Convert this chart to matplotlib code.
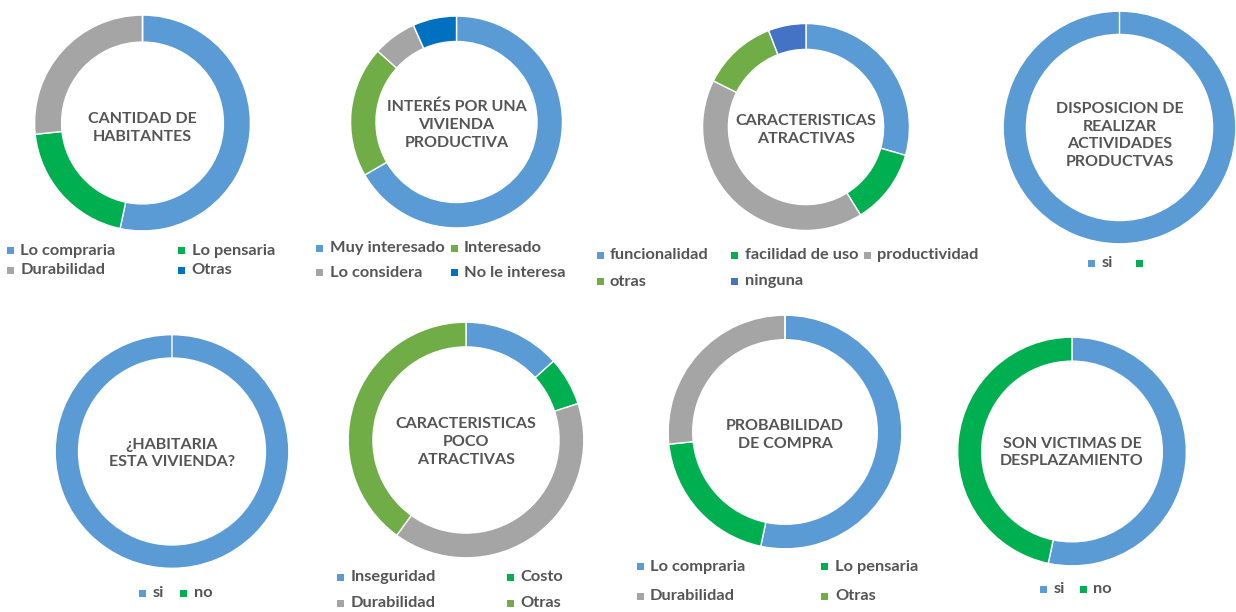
import matplotlib
matplotlib.use("Agg")
import matplotlib.pyplot as plt
from matplotlib.patches import Rectangle

W, H = 1236, 612
plt.rcParams['font.family'] = ['Lato', 'DejaVu Sans']

BLUE = '#5B9BD5'
GREEN = '#00B050'
GREY = '#A5A5A5'
DBLUE = '#0070C0'
LGREEN = '#70AD47'
NBLUE = '#4472C4'
TXT = '#555555'

# ---- data ----
titles = [
    "CANTIDAD DE\nHABITANTES",
    "INTERÉS POR UNA\nVIVIENDA\nPRODUCTIVA",
    "CARACTERISTICAS\nATRACTIVAS",
    "DISPOSICION DE\nREALIZAR\nACTIVIDADES\nPRODUCTVAS",
    "¿HABITARIA\nESTA VIVIENDA?",
    "CARACTERISTICAS\nPOCO\nATRACTIVAS",
    "PROBABILIDAD\nDE COMPRA",
    "SON VICTIMAS DE\nDESPLAZAMIENTO",
]

cantidad_labels = ["Lo compraria", "Lo pensaria", "Durabilidad", "Otras"]
cantidad_values = [8, 3, 4, 0]

interes_labels = ["Muy interesado", "Interesado", "Lo considera", "No le interesa"]
interes_values = [10, 3, 1, 1]

atractivas_labels = ["funcionalidad", "facilidad de uso", "productividad", "otras", "ninguna"]
atractivas_values = [5, 2, 7, 2, 1]

disposicion_labels = ["si", ""]
disposicion_values = [1, 0]

habitaria_labels = ["si", "no"]
habitaria_values = [1, 0]

poco_labels = ["Inseguridad", "Costo", "Durabilidad", "Otras"]
poco_values = [2, 1, 6, 6]

probabilidad_labels = ["Lo compraria", "Lo pensaria", "Durabilidad", "Otras"]
probabilidad_values = [8, 3, 4, 0]

victimas_labels = ["si", "no"]
victimas_values = [8, 7]

# ---- layout (pixel geometry) ----
charts = [
    dict(labels=cantidad_labels, values=cantidad_values, colors=[BLUE, GREEN, GREY, DBLUE],
         c=(142.5, 123), r=109, w=0.25, ty=5,
         leg=[(7, 250.5, 0), (178, 250.5, 1), (7, 270.5, 2), (178, 270.5, 3)]),
    dict(labels=interes_labels, values=interes_values, colors=[BLUE, LGREEN, GREY, DBLUE],
         c=(456.5, 122), r=107, w=0.24, ty=3,
         leg=[(316, 248, 0), (450.5, 248, 1), (316, 273, 2), (450.5, 273, 3)]),
    dict(labels=atractivas_labels, values=atractivas_values, colors=[BLUE, GREEN, GREY, LGREEN, NBLUE],
         c=(806, 127), r=104.5, w=0.25, ty=3,
         leg=[(596.5, 255, 0), (731, 255, 1), (864, 255, 2), (596.5, 281.5, 3), (731, 281.5, 4)]),
    dict(labels=disposicion_labels, values=disposicion_values, colors=[BLUE, GREEN],
         c=(1119.5, 127.5), r=117.5, w=0.2, ty=8,
         leg=[(1088, 263, 0), (1136, 263, 1)]),
    dict(labels=habitaria_labels, values=habitaria_values, colors=[BLUE, GREEN],
         c=(172, 451.5), r=118, w=0.2, ty=2,
         leg=[(139, 593, 0), (180, 593, 1)]),
    dict(labels=poco_labels, values=poco_values, colors=[BLUE, GREEN, GREY, LGREEN],
         c=(466, 440), r=119, w=0.21, ty=2,
         leg=[(337, 577, 0), (506.5, 577, 1), (337, 603, 2), (506.5, 603, 3)]),
    dict(labels=probabilidad_labels, values=probabilidad_values, colors=[BLUE, GREEN, GREY, LGREEN],
         c=(785, 432), r=118, w=0.21, ty=3,
         leg=[(636.5, 566.5, 0), (821.5, 566.5, 1), (636.5, 596.5, 2), (821.5, 596.5, 3)]),
    dict(labels=victimas_labels, values=victimas_values, colors=[BLUE, GREEN],
         c=(1072, 451.5), r=115.5, w=0.21, ty=1,
         leg=[(1040, 589, 0), (1080, 589, 1)]),
]

fig = plt.figure(figsize=(W / 100, H / 100), dpi=100)
fig.patch.set_facecolor('white')

for title, ch in zip(titles, charts):
    cx, cy = ch['c']
    r = ch['r']
    ax = fig.add_axes([(cx - r) / W, (H - cy - r) / H, 2 * r / W, 2 * r / H])
    vals = ch['values']
    ax.pie(vals, colors=ch['colors'], startangle=90, counterclock=False, radius=1,
           wedgeprops=dict(width=ch['w'], edgecolor='white', linewidth=1.0))
    ax.set_xlim(-1.01, 1.01)
    ax.set_ylim(-1.01, 1.01)
    ax.set_aspect('auto')
    ax.axis('off')
    # centre title
    fig.text(cx / W, (H - cy - ch['ty']) / H, title, ha='center', va='center',
             fontsize=11.5, fontweight='bold', color=TXT, linespacing=1.35)
    # legend entries
    for (lx, ly, i) in ch['leg']:
        sq = 7
        fig.patches.append(Rectangle((lx / W, (H - ly - sq / 2) / H), sq / W, sq / H,
                                     transform=fig.transFigure, facecolor=ch['colors'][i],
                                     edgecolor='none'))
        if ch['labels'][i]:
            fig.text((lx + 13.5) / W, (H - ly) / H, ch['labels'][i], ha='left', va='center',
                     fontsize=11.8, fontweight='bold', color=TXT)

fig.savefig('out.png', dpi=100, facecolor='white')
